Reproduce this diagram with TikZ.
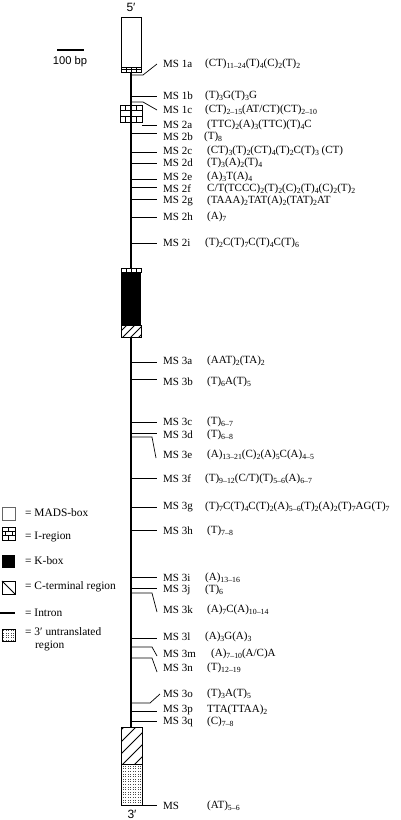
\documentclass[tikz,border=0pt]{standalone}
\usepackage{fontspec}
\setmainfont{Liberation Serif}
\newfontfamily\helvfont{Liberation Sans}
\usetikzlibrary{positioning}
\newcommand{\rp}[1]{\raisebox{-0.4ex}{\fontsize{7.8}{9}\selectfont #1}}

\begin{document}
\begin{tikzpicture}[x=1pt,y=-1pt,
		lbl/.style={anchor=west,inner sep=0pt,font=\fontsize{11}{13}\selectfont},
		key/.style={anchor=west,inner sep=0pt,font=\fontsize{11.4}{13}\selectfont},
		ends/.style={inner sep=0pt,font=\helvfont\fontsize{12}{14}\selectfont},
		intron/.style={line width=1.5pt},
		exon/.style={draw=black,line width=0.6pt},
		link/.style={line width=0.7pt},
		hatch/.style={line width=1pt}]
		\useasboundingbox (0,0) rectangle (400,820);
		
		% scale bar
		\coordinate (barl) at (57,50);
		\coordinate (barr) at (84,50);
		\draw[line width=2pt] (barl) -- (barr);
		\node[ends,font=\helvfont\fontsize{11.2}{13}\selectfont] (bar) at (70,62) {100 bp};
		
		% gene
		\node[ends] (five) at (131,7) {5′};
		\node[ends] (three) at (132,814) {3′};
		\draw[intron] (131,70) -- (131,727);
		
		% MADS-box with I-region strip
		\draw[exon,fill=white] (121,17) rectangle (141,72);
		\draw[exon] (121,67) -- (141,67) (121,69.5) -- (141,69.5);
		\foreach \x in {126,131,136} \draw[exon] (\x,67) -- (\x,72);
		
		% I-region
		\draw[exon,fill=white] (120,105) rectangle (142,122);
		\draw[exon] (120,110.5) -- (142,110.5) (120,116.5) -- (142,116.5);
		\foreach \x in {125.5,136.5} \draw[exon] (\x,105) -- (\x,110.5) (\x,116.5) -- (\x,122);
		\draw[intron] (131,105) -- (131,122);
		
		% K-box
		\fill (121,268) rectangle (141,325);
		\draw[exon,fill=white] (121,268) rectangle (141,272);
		\foreach \x in {126,131,136} \draw[exon] (\x,268) -- (\x,272);
		\draw[exon,fill=white] (121,325) rectangle (141,337);
		\begin{scope}
			\clip (121,325) rectangle (141,337);
			\foreach \s in {-8,0,...,24} \draw[hatch] (121+\s,339) -- ++(16,-16);
		\end{scope}
		\draw[exon] (121,325) rectangle (141,337);
		
		% C-terminal region
		\draw[exon,fill=white] (121,727) rectangle (142,764);
		\begin{scope}
			\clip (121,727) rectangle (142,764);
			\foreach \s in {-36,-24,...,12} \draw[hatch] (121+\s,766) -- ++(42,-42);
		\end{scope}
		\draw[exon] (121,727) rectangle (142,764);
		
		% 3' untranslated region
		\draw[exon,fill=white] (121,764) rectangle (142,805);
		\foreach \i in {0,...,7}
		\foreach \j in {0,...,14}
		\fill[black!70] (122.6+\i*2.5,765.8+\j*2.6) rectangle ++(1,1);
		\draw[exon] (121,764) rectangle (142,805);
		
		% microsatellites
		\node[lbl] (m1a) at (163,64)  {MS 1a};
		\node[lbl] (s1a) at (205,64)  {(CT)\rp{11–24}(T)\rp{4}(C)\rp{2}(T)\rp{2}};
		\node[lbl] (m1b) at (163,96)  {MS 1b};
		\node[lbl] (s1b) at (205,96)  {(T)\rp{3}G(T)\rp{3}G};
		\node[lbl] (m1c) at (163,110) {MS 1c};
		\node[lbl] (s1c) at (205,110) {(CT)\rp{2–15}(AT/CT)(CT)\rp{2–10}};
		\node[lbl] (m2a) at (163,125) {MS 2a};
		\node[lbl] (s2a) at (207,125) {(TTC)\rp{2}(A)\rp{3}(TTC)(T)\rp{4}C};
		\node[lbl] (m2b) at (163,137) {MS 2b};
		\node[lbl] (s2b) at (204,137) {(T)\rp{8}};
		\node[lbl] (m2c) at (163,151) {MS 2c};
		\node[lbl] (s2c) at (207,151) {(CT)\rp{3}(T)\rp{2}(CT)\rp{4}(T)\rp{2}C(T)\rp{3} (CT)};
		\node[lbl] (m2d) at (163,163) {MS 2d};
		\node[lbl] (s2d) at (207,163) {(T)\rp{3}(A)\rp{2}(T)\rp{4}};
		\node[lbl] (m2e) at (163,177) {MS 2e};
		\node[lbl] (s2e) at (207,177) {(A)\rp{3}T(A)\rp{4}};
		\node[lbl] (m2f) at (163,189) {MS 2f};
		\node[lbl] (s2f) at (207,189) {C/T(TCCC)\rp{2}(T)\rp{2}(C)\rp{2}(T)\rp{4}(C)\rp{2}(T)\rp{2}};
		\node[lbl] (m2g) at (163,201) {MS 2g};
		\node[lbl] (s2g) at (207,201) {(TAAA)\rp{2}TAT(A)\rp{2}(TAT)\rp{2}AT};
		\node[lbl] (m2h) at (163,217) {MS 2h};
		\node[lbl] (s2h) at (207,217) {(A)\rp{7}};
		\node[lbl] (m2i) at (163,243) {MS 2i};
		\node[lbl] (s2i) at (205,243) {(T)\rp{2}C(T)\rp{7}C(T)\rp{4}C(T)\rp{6}};
		\node[lbl] (m3a) at (163,361) {MS 3a};
		\node[lbl] (s3a) at (207,361) {(AAT)\rp{2}(TA)\rp{2}};
		\node[lbl] (m3b) at (163,382) {MS 3b};
		\node[lbl] (s3b) at (207,382) {(T)\rp{6}A(T)\rp{5}};
		\node[lbl] (m3c) at (163,422) {MS 3c};
		\node[lbl] (s3c) at (207,422) {(T)\rp{6–7}};
		\node[lbl] (m3d) at (163,435) {MS 3d};
		\node[lbl] (s3d) at (207,435) {(T)\rp{6–8}};
		\node[lbl] (m3e) at (163,455) {MS 3e};
		\node[lbl] (s3e) at (207,455) {(A)\rp{13–21}(C)\rp{2}(A)\rp{5}C(A)\rp{4–5}};
		\node[lbl] (m3f) at (163,479) {MS 3f};
		\node[lbl] (s3f) at (205,479) {(T)\rp{9–12}(C/T)(T)\rp{5–6}(A)\rp{6–7}};
		\node[lbl] (m3g) at (163,507) {MS 3g};
		\node[lbl] (s3g) at (205,507) {(T)\rp{7}C(T)\rp{4}C(T)\rp{2}(A)\rp{5–6}(T)\rp{2}(A)\rp{2}(T)\rp{7}AG(T)\rp{7}};
		\node[lbl] (m3h) at (163,531) {MS 3h};
		\node[lbl] (s3h) at (207,531) {(T)\rp{7–8}};
		\node[lbl] (m3i) at (163,578) {MS 3i};
		\node[lbl] (s3i) at (205,578) {(A)\rp{13–16}};
		\node[lbl] (m3j) at (163,590) {MS 3j};
		\node[lbl] (s3j) at (205,590) {(T)\rp{6}};
		\node[lbl] (m3k) at (163,610) {MS 3k};
		\node[lbl] (s3k) at (207,610) {(A)\rp{7}C(A)\rp{10–14}};
		\node[lbl] (m3l) at (163,637) {MS 3l};
		\node[lbl] (s3l) at (205,637) {(A)\rp{3}G(A)\rp{3}};
		\node[lbl] (m3m) at (163,654) {MS 3m};
		\node[lbl] (s3m) at (211,654) {(A)\rp{7–10}(A/C)A};
		\node[lbl] (m3n) at (163,668) {MS 3n};
		\node[lbl] (s3n) at (207,668) {(T)\rp{12–19}};
		\node[lbl] (m3o) at (163,694) {MS 3o};
		\node[lbl] (s3o) at (207,694) {(T)\rp{3}A(T)\rp{5}};
		\node[lbl] (m3p) at (163,710) {MS 3p};
		\node[lbl] (s3p) at (207,710) {TTA(TTAA)\rp{2}};
		\node[lbl] (m3q) at (163,722) {MS 3q};
		\node[lbl] (s3q) at (207,722) {(C)\rp{7–8}};
		\node[lbl] (mutr) at (163,806) {MS};
		\node[lbl] (sutr) at (207,806) {(AT)\rp{5–6}};
		
		% sites on the gene
		\coordinate (a1a) at (131,75);
		\coordinate (a1b) at (131,96);
		\coordinate (a1c) at (131,102);
		\coordinate (a2a) at (142,125);
		\coordinate (a2b) at (131,133);
		\coordinate (a2c) at (131,152);
		\coordinate (a2d) at (131,163);
		\coordinate (a2e) at (131,179);
		\coordinate (a2f) at (131,187);
		\coordinate (a2g) at (131,199);
		\coordinate (a2h) at (131,217);
		\coordinate (a2i) at (131,243);
		\coordinate (a3a) at (131,362);
		\coordinate (a3b) at (131,379);
		\coordinate (a3c) at (131,422);
		\coordinate (a3d) at (131,433);
		\coordinate (a3e) at (131,437);
		\coordinate (a3f) at (131,478);
		\coordinate (a3g) at (131,507);
		\coordinate (a3h) at (131,530);
		\coordinate (a3i) at (131,577);
		\coordinate (a3j) at (131,588);
		\coordinate (a3k) at (131,593);
		\coordinate (a3l) at (131,638);
		\coordinate (a3m) at (131,647);
		\coordinate (a3n) at (131,658);
		\coordinate (a3o) at (131,703);
		\coordinate (a3p) at (131,711);
		\coordinate (a3q) at (131,721);
		\coordinate (autr) at (142,805);
		
		% connectors
		\draw[link] (a1a) -- ++(12,0) -- ([xshift=-6pt]m1a.west);
		\draw[link] (a1b) -- ([xshift=-6pt]a1b -| m1b.west);
		\draw[link] (a1c) -- ++(12,0) -- ([xshift=-6pt]m1c.west);
		\draw[link] (a2a) -- ([xshift=-6pt]a2a -| m2a.west);
		\draw[link] (a2b) -- ([xshift=-6pt]a2b -| m2b.west);
		\draw[link] (a2c) -- ([xshift=-6pt]a2c -| m2c.west);
		\draw[link] (a2d) -- ([xshift=-6pt]a2d -| m2d.west);
		\draw[link] (a2e) -- ([xshift=-6pt]a2e -| m2e.west);
		\draw[link] (a2f) -- ([xshift=-6pt]a2f -| m2f.west);
		\draw[link] (a2g) -- ([xshift=-6pt]a2g -| m2g.west);
		\draw[link] (a2h) -- ([xshift=-6pt]a2h -| m2h.west);
		\draw[link] (a2i) -- ([xshift=-6pt]a2i -| m2i.west);
		\draw[link] (a3a) -- ([xshift=-6pt]a3a -| m3a.west);
		\draw[link] (a3b) -- ([xshift=-6pt]a3b -| m3b.west);
		\draw[link] (a3c) -- ([xshift=-6pt]a3c -| m3c.west);
		\draw[link] (a3d) -- ([xshift=-6pt]a3d -| m3d.west);
		\draw[link] (a3e) -- ++(21,0) -- ([xshift=-7pt,yshift=-3pt]m3e.west);
		\draw[link] (a3f) -- ([xshift=-6pt]a3f -| m3f.west);
		\draw[link] (a3g) -- ([xshift=-6pt]a3g -| m3g.west);
		\draw[link] (a3h) -- ([xshift=-6pt]a3h -| m3h.west);
		\draw[link] (a3i) -- ([xshift=-6pt]a3i -| m3i.west);
		\draw[link] (a3j) -- ([xshift=-6pt]a3j -| m3j.west);
		\draw[link] (a3k) -- ++(21,0) -- ([xshift=-6pt,yshift=-2pt]m3k.west);
		\draw[link] (a3l) -- ([xshift=-6pt]a3l -| m3l.west);
		\draw[link] (a3m) -- ++(21,0) -- ([xshift=-6pt,yshift=-2pt]m3m.west);
		\draw[link] (a3n) -- ++(21,0) -- ([xshift=-6pt,yshift=-4pt]m3n.west);
		\draw[link] (a3o) -- ++(19,0) -- ([xshift=-3pt]m3o.west);
		\draw[link] (a3p) -- ([xshift=-6pt]a3p -| m3p.west);
		\draw[link] (a3q) -- ([xshift=-6pt]a3q -| m3q.west);
		\draw[link] (autr) -- ([xshift=-6pt]autr -| mutr.west);
		
		% key
		\draw[exon,draw=black!60] (2,507) rectangle (15,520);
		\node[key] (kmads) at (25,513) {= MADS-box};
		\draw[exon] (2,527) rectangle (15,540);
		\draw[exon] (2,531.3) -- (15,531.3) (2,535.7) -- (15,535.7);
		\draw[exon] (8.5,527) -- (8.5,531.3) (5,531.3) -- (5,535.7) (12,531.3) -- (12,535.7) (8.5,535.7) -- (8.5,540);
		\node[key] (kireg) at (25,537) {= I-region};
		\fill (2,555) rectangle (15,568);
		\node[key] (kkbox) at (25,561) {= K-box};
		\draw[exon] (2,581) rectangle (15,594);
		\draw[exon,line width=0.9pt] (2,581) -- (15,594);
		\node[key] (kcterm) at (25,587) {= C-terminal region};
		\draw[intron] (0,613) -- (15,613);
		\node[key] (kintron) at (25,613) {= Intron};
		\draw[exon,fill=white] (2,629) rectangle (15,641);
		\foreach \i in {0,...,4}
		\foreach \j in {0,...,4}
		\fill[black!70] (3.4+\i*2.4,630.4+\j*2.3) rectangle ++(1,1);
		\draw[exon] (2,629) rectangle (15,641);
		\node[key] (kutr) at (25,632) {= 3′ untranslated};
		\node[key] (kutr2) at (35,646) {region};
\end{tikzpicture}
\end{document}
